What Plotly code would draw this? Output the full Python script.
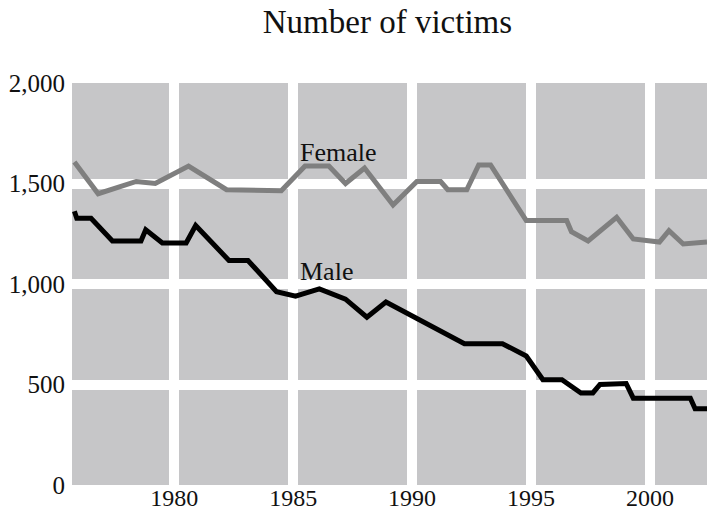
import plotly.graph_objects as go

female_years = [1975.8, 1976.8, 1978.4, 1979.2, 1980.6, 1982.2, 1984.5, 1985.5, 1986.5,
                1987.2, 1988.0, 1989.2, 1990.2, 1991.2, 1991.5, 1992.3, 1992.8, 1993.3,
                1994.8, 1996.5, 1996.7, 1997.4, 1998.6, 1999.3, 2000.4, 2000.8, 2001.4, 2002.4]
female_values = [1607, 1449, 1510, 1500, 1587, 1469, 1464, 1587, 1587,
                 1500, 1577, 1393, 1510, 1510, 1469, 1469, 1592, 1592,
                 1316, 1316, 1260, 1214, 1332, 1224, 1209, 1265, 1199, 1209]

male_years = [1975.8, 1975.9, 1976.5, 1977.4, 1978.6, 1978.8, 1979.5, 1980.5, 1980.9,
              1982.3, 1983.1, 1984.3, 1985.1, 1986.1, 1987.2, 1988.1, 1988.9, 1992.2,
              1993.8, 1994.8, 1995.5, 1996.3, 1997.1, 1997.6, 1997.9, 1999.0, 1999.3,
              2001.7, 2001.9, 2002.4]
male_values = [1362, 1327, 1327, 1214, 1214, 1270, 1204, 1204, 1291,
               1117, 1117, 962, 939, 976, 925, 835, 910, 703,
               703, 642, 524, 524, 458, 458, 500, 505, 432,
               432, 379, 379]

x_ticks = [1980, 1985, 1990, 1995, 2000]
y_ticks = [0, 500, 1000, 1500, 2000]
y_tick_labels = ["0", "500", "1,000", "1,500", "2,000"]
y_grid = [500, 1000, 1500]

FONT = "Liberation Serif, Times New Roman, serif"

fig = go.Figure()
fig.add_trace(go.Scatter(x=female_years, y=female_values, mode="lines",
                         line=dict(color="#7f7f7f", width=5), name="Female",
                         showlegend=False))
fig.add_trace(go.Scatter(x=male_years, y=male_values, mode="lines",
                         line=dict(color="#000000", width=5), name="Male",
                         showlegend=False))

fig.add_annotation(x=1985.2, y=1652, text="Female", showarrow=False,
                   xanchor="left", yanchor="middle",
                   font=dict(family=FONT, size=26, color="#111111"))
fig.add_annotation(x=1985.2, y=1060, text="Male", showarrow=False,
                   xanchor="left", yanchor="middle",
                   font=dict(family=FONT, size=26, color="#111111"))

fig.update_layout(
    width=707, height=510,
    margin=dict(l=72, r=0, t=83, b=25),
    paper_bgcolor="white",
    plot_bgcolor="#c6c6c8",
    title=dict(text="Number of victims", x=0.548, xanchor="center",
               y=0.958, yanchor="middle",
               font=dict(family=FONT, size=33, color="#111111")),
    font=dict(family=FONT, color="#111111"),
)
fig.update_xaxes(range=[1975.7, 2002.4], tickvals=x_ticks, showgrid=True,
                 gridcolor="white", gridwidth=10, zeroline=False, showline=False,
                 ticks="", ticklabelstandoff=-4,
                 tickfont=dict(family=FONT, size=24, color="#111111"),
                 automargin=False, fixedrange=True)
fig.update_yaxes(range=[0, 2000], tickvals=y_ticks, ticktext=y_tick_labels,
                 showgrid=False, zeroline=False, showline=False, ticks="",
                 minor=dict(tickvals=y_grid, showgrid=True, gridcolor="white",
                            gridwidth=10, ticks=""),
                 ticklabelstandoff=6,
                 tickfont=dict(family=FONT, size=25, color="#111111"),
                 automargin=False, fixedrange=True)

fig.write_html("out.html", config={"displayModeBar": False},
               post_script="document.body.style.margin='0';")
